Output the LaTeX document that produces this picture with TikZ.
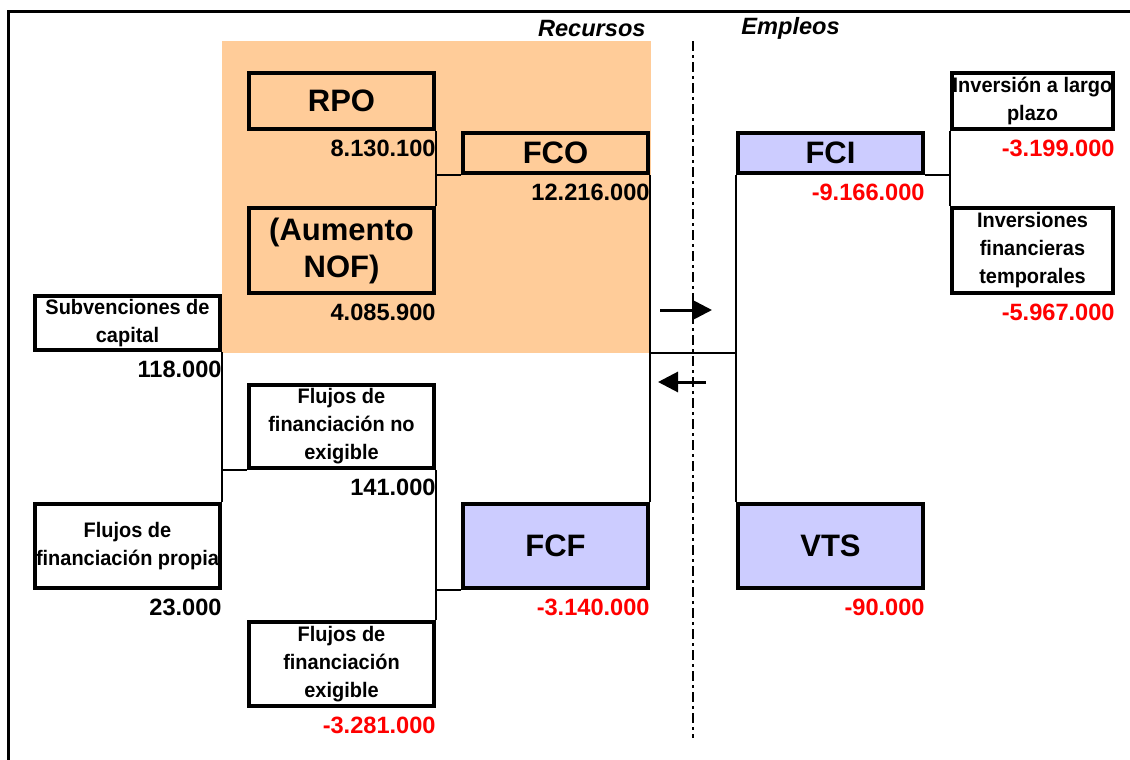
\documentclass[tikz,border=0pt]{standalone}
\usepackage{fontspec}
\setmainfont{Liberation Sans}
\newfontfamily\lblfont{Liberation Sans}[FakeStretch=0.95]
\usetikzlibrary{arrows.meta,positioning}
\definecolor{bgorange}{RGB}{255,204,153}
\definecolor{boxblue}{RGB}{204,204,255}
\definecolor{negred}{RGB}{255,0,0}

\begin{document}
\begin{tikzpicture}[
    x = 0.5pt, y = -0.5pt, % one unit per pixel
    > = {Triangle[length=10pt,width=10pt]}, % arrow head style
    box/.style = {draw, line width=2pt, inner sep=0pt, minimum width=92.5pt, align=center},
    bigbox/.style = {box, font=\fontsize{15.5}{18.5}\selectfont\bfseries},
    smallbox/.style = {box, fill=white, font=\lblfont\fontsize{10.5}{14}\selectfont\bfseries},
    val/.style = {inner sep=0pt, font=\fontsize{11.8}{13.5}\selectfont\bfseries},
    neg/.style = {val, text=negred},
    head/.style = {inner sep=0pt, font=\fontsize{11.8}{13}\selectfont\bfseries\itshape},
    link/.style = {line width=1pt},
    flow/.style = {->, line width=1.5pt}
    ]
    \useasboundingbox (0,0) rectangle (1130,760);

    % recursos area
    \node[fill=bgorange, inner sep=0pt, minimum width=214.5pt, minimum height=156pt] (recbg) at (436.5,197) {};
    \draw[line width=1.5pt] (8,760) -- (8,11) -- (1130,11);

    \node[head, anchor=east] (recursos) at (646,28) {Recursos};
    \node[head, anchor=west] (empleos) at (741,28) {Empleos};

    \node[bigbox, minimum height=28pt] (rpo) at (341.5,101) {RPO};
    \node[bigbox, minimum height=20pt] (fco) at (555.5,153) {FCO};
    \node[bigbox, minimum height=42.5pt] (nof) at (341.5,250.5) {(Aumento\\NOF)};
    \node[smallbox, minimum height=27pt] (subv) at (127.5,323) {Subvenciones de\\capital};
    \node[smallbox, minimum height=41.5pt] (fne) at (341.5,426.5) {Flujos de\\financiación no\\exigible};
    \node[smallbox, minimum height=42pt] (ffp) at (127.5,546) {Flujos de\\financiación propia};
    \node[smallbox, minimum height=42pt] (ffe) at (341.5,664) {Flujos de\\financiación\\exigible};
    \node[bigbox, fill=boxblue, minimum height=42pt] (fcf) at (555.5,546) {FCF};

    % empleos
    \node[bigbox, fill=boxblue, minimum height=20pt] (fci) at (830.5,153) {FCI};
    \node[bigbox, fill=boxblue, minimum height=42pt] (vts) at (830.5,546) {VTS};
    \node[smallbox, minimum width=80.5pt, minimum height=28pt] (ilp) at (1032.5,101) {Inversión a largo\\plazo};
    \node[smallbox, minimum width=80.5pt, minimum height=42.5pt] (ift) at (1032.5,250.5) {Inversiones\\financieras\\temporales};

    % values
    \node[val, below left=4.5pt and 0pt of rpo.south east] (vrpo) {8.130.100};
    \node[val, below left=4.5pt and 0pt of fco.south east] (vfco) {12.216.000};
    \node[val, below left=4.5pt and 0pt of nof.south east] (vnof) {4.085.900};
    \node[val, below left=4.5pt and 0pt of subv.south east] (vsubv) {118.000};
    \node[val, below left=4.5pt and 0pt of fne.south east] (vfne) {141.000};
    \node[val, below left=4.5pt and 0pt of ffp.south east] (vffp) {23.000};
    \node[neg, below left=4.5pt and 0pt of ffe.south east] (vffe) {-3.281.000};
    \node[neg, below left=4.5pt and 0pt of fcf.south east] (vfcf) {-3.140.000};
    \node[neg, below left=4.5pt and 0pt of fci.south east] (vfci) {-9.166.000};
    \node[neg, below left=4.5pt and 0pt of vts.south east] (vvts) {-90.000};
    \node[neg, below left=4.5pt and 0pt of ilp.south east] (vilp) {-3.199.000};
    \node[neg, below left=4.5pt and 0pt of ift.south east] (vift) {-5.967.000};

    % tree lines
    \draw[link] (rpo.south east) -- (nof.north east);
    \draw[link] (fco.south west) -- (fco.south west -| rpo.east);
    \draw[link] (fco.south east) -- (fcf.north east);
    \draw[link] (recbg.south east) -- (recbg.south east -| fci.west);
    \draw[link] (fci.south west) -- (vts.north west);
    \draw[link] (fci.south east) -- (fci.south east -| ilp.west);
    \draw[link] (ilp.south west) -- (ift.north west);
    \draw[link] (subv.south east) -- (ffp.north east);
    \draw[link] (fne.south west) -- (fne.south west -| subv.east);
    \draw[link] (fne.south east) -- (ffe.north east);
    \draw[link] (fcf.south west) -- (fcf.south west -| fne.east);

    % divider and flows
    \coordinate (divtop) at (693,41);
    \coordinate (divbot) at (693,738);
    \draw[line width=1pt, dash pattern=on 5pt off 2pt on 1.5pt off 2pt] (divtop) -- (divbot);
    \coordinate (outA) at (660,310);
    \coordinate (outB) at (712,310);
    \coordinate (inA) at (706,382);
    \coordinate (inB) at (658,382);
    \draw[flow] (outA) -- (outB);
    \draw[flow] (inA) -- (inB);
\end{tikzpicture}
\end{document}
